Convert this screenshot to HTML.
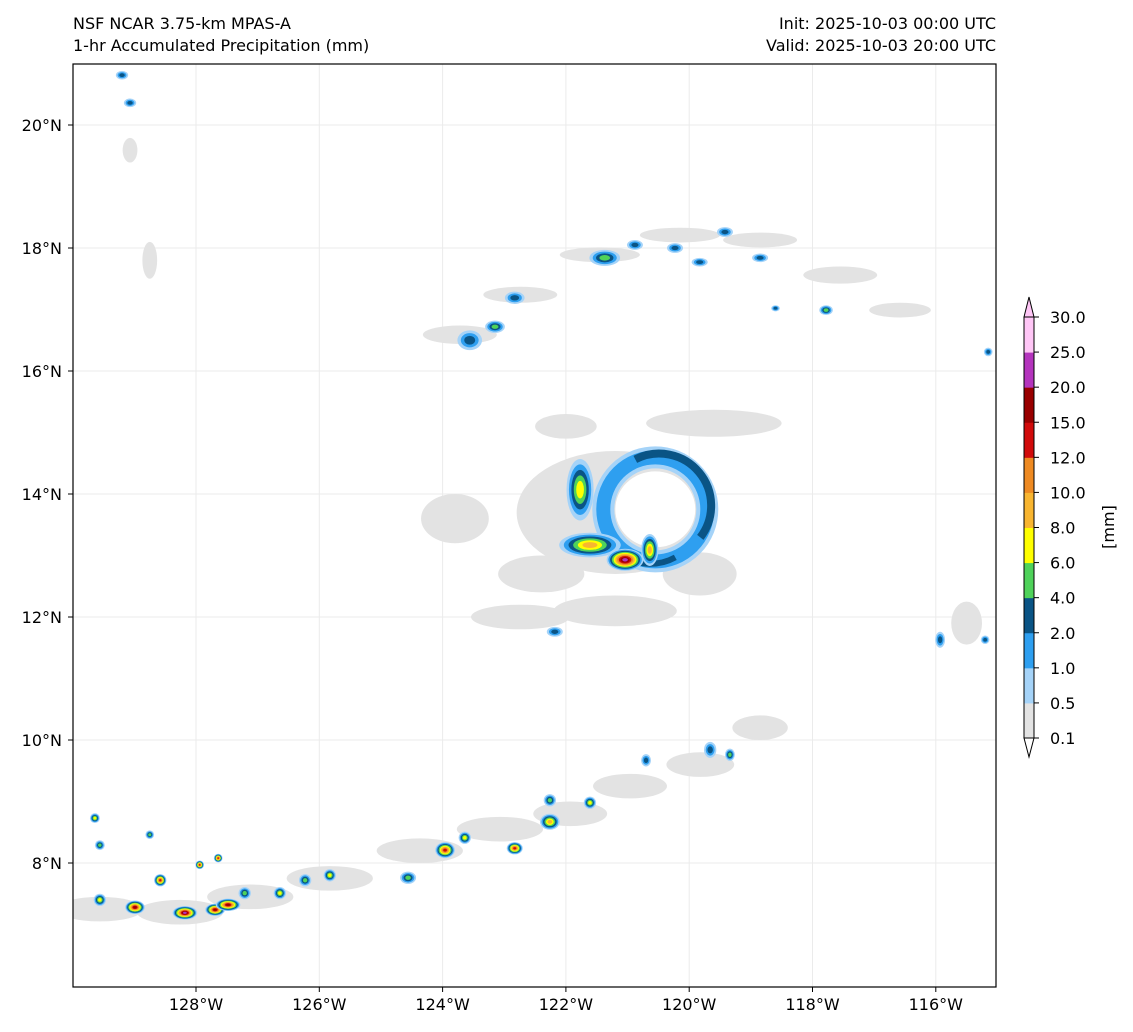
<!DOCTYPE html>
<html><head><meta charset="utf-8"><style>
body{margin:0;background:#fff;font-family:"DejaVu Sans",sans-serif}
svg{display:block}
text{font-family:"DejaVu Sans",sans-serif;fill:#000}
</style></head><body>
<svg id="chart" width="1133" height="1032" viewBox="0 0 1133 1032">
<text x="73" y="29" font-size="16">NSF NCAR 3.75-km MPAS-A</text>
<text x="73" y="51" font-size="16">1-hr Accumulated Precipitation (mm)</text>
<text x="996" y="29" font-size="16" text-anchor="end">Init: 2025-10-03 00:00 UTC</text>
<text x="996" y="51" font-size="16" text-anchor="end">Valid: 2025-10-03 20:00 UTC</text>
<defs><clipPath id="clip"><rect x="73" y="64" width="923" height="923"/></clipPath></defs>
<g id="grid"></g>
<g id="precip" clip-path="url(#clip)"></g>
<rect x="73" y="64" width="923" height="923" fill="none" stroke="#000" stroke-width="1.2"/>
<g id="axes"></g>
<g id="cbar"></g>
<text transform="translate(1114,527) rotate(-90)" font-size="16" text-anchor="middle">[mm]</text>
</svg>
<script>
const lonTicks=[-128,-126,-124,-122,-120,-118,-116];
const latTicks=[20,18,16,14,12,10,8];
const levels=["0.1","0.5","1.0","2.0","4.0","6.0","8.0","10.0","12.0","15.0","20.0","25.0","30.0"];
const colors=["#e3e3e3","#a5d3f8","#2e9ff0","#0a5485","#4fd25a","#ffff00","#f8b530","#ee8a22","#d10b0b","#990000","#b434bd","#ffc6f6"];
// gray areas: lon, lat, rx(deg), ry(deg)
const grayLon=[-121.2,-122.74,-123.8,-119.6,-119.83,-123.72,-122.74,-121.45,-120.15,-118.85,-117.55,-116.58,-129.56,-128.26,-127.12,-125.83,-124.37,-123.07,-121.93,-120.96,-119.82,-118.85,-115.5,-129.07,-128.75,-121.2,-122.4,-122.0];
const grayLat=[13.7,12.0,13.6,15.15,12.7,16.59,17.24,17.89,18.21,18.13,17.56,16.99,7.25,7.2,7.45,7.75,8.2,8.55,8.8,9.25,9.6,10.2,11.9,19.59,17.8,12.1,12.7,15.1];
const grayRx=[1.6,0.8,0.55,1.1,0.6,0.6,0.6,0.65,0.65,0.6,0.6,0.5,0.7,0.7,0.7,0.7,0.7,0.7,0.6,0.6,0.55,0.45,0.25,0.12,0.12,1.0,0.7,0.5];
const grayRy=[1.0,0.2,0.4,0.22,0.35,0.15,0.13,0.12,0.12,0.12,0.14,0.12,0.2,0.2,0.2,0.2,0.2,0.2,0.2,0.2,0.2,0.2,0.35,0.2,0.3,0.25,0.3,0.2];
// convective cells: lon, lat, rx, ry, max level index
const cellLon=[-121.77,-121.61,-121.04,-120.64,-122.18,-123.15,-123.56,-122.83,-121.37,-120.88,-120.23,-119.83,-119.42,-118.85,-117.78,-115.15,-118.6,-128.99,-128.18,-127.69,-127.48,-128.58,-129.56,-127.21,-126.64,-126.23,-125.83,-124.56,-123.96,-123.64,-122.83,-122.26,-121.61,-122.26,-120.7,-119.34,-119.66,-129.64,-129.56,-128.75,-127.94,-127.64,-129.2,-129.07,-115.93,-115.2];
const cellLat=[14.07,13.17,12.93,13.09,11.76,16.72,16.5,17.19,17.84,18.05,18.0,17.77,18.26,17.84,16.99,16.31,17.02,7.28,7.19,7.24,7.32,7.72,7.4,7.51,7.51,7.72,7.8,7.76,8.21,8.41,8.24,8.67,8.98,9.02,9.67,9.76,9.84,8.73,8.29,8.46,7.97,8.08,20.81,20.36,11.63,11.63];
const cellRx=[0.22,0.5,0.3,0.14,0.13,0.16,0.2,0.16,0.25,0.13,0.13,0.13,0.13,0.13,0.11,0.07,0.07,0.16,0.2,0.16,0.2,0.1,0.1,0.1,0.1,0.1,0.1,0.13,0.16,0.1,0.13,0.16,0.1,0.1,0.08,0.08,0.1,0.08,0.08,0.07,0.07,0.07,0.1,0.1,0.08,0.07];
const cellRy=[0.5,0.2,0.18,0.26,0.08,0.1,0.16,0.1,0.13,0.08,0.08,0.07,0.08,0.07,0.08,0.07,0.05,0.11,0.11,0.1,0.1,0.1,0.1,0.1,0.1,0.1,0.1,0.1,0.13,0.1,0.1,0.13,0.1,0.1,0.1,0.1,0.13,0.08,0.08,0.07,0.07,0.07,0.07,0.07,0.13,0.07];
const cellLv=[5,6,10,6,3,4,3,3,4,3,3,3,3,3,4,3,3,9,10,9,9,8,5,4,5,4,5,4,8,5,8,6,5,4,3,4,3,5,4,4,8,8,3,3,3,3];

const NS="http://www.w3.org/2000/svg";
const X=lon=>196+(lon+128)*61.65;
const Y=lat=>125+(20-lat)*61.5;
function mk(tag,attrs,parent){const e=document.createElementNS(NS,tag);for(const k in attrs)e.setAttribute(k,attrs[k]);parent.appendChild(e);return e;}
const grid=document.getElementById('grid'),axes=document.getElementById('axes'),pr=document.getElementById('precip'),cb=document.getElementById('cbar');
lonTicks.forEach(l=>{
 const g=mk('line',{x1:X(l),x2:X(l),y1:64,y2:987,stroke:'#ebebeb','stroke-width':1},grid);
 
 
 mk('line',{x1:X(l),x2:X(l),y1:987,y2:992,stroke:'#000'},axes);
 const t=mk('text',{x:X(l),y:1010,'font-size':16,'text-anchor':'middle'},axes);
 t.textContent=(-l)+'°W';
 
 
});
latTicks.forEach(l=>{
 const g=mk('line',{x1:73,x2:996,y1:Y(l),y2:Y(l),stroke:'#ebebeb','stroke-width':1},grid);
 
 
 mk('line',{x1:68,x2:73,y1:Y(l),y2:Y(l),stroke:'#000'},axes);
 const t=mk('text',{x:62,y:Y(l)+6,'font-size':16,'text-anchor':'end'},axes);
 t.textContent=l+'°N';
 
 
});
grayLon.forEach((lon,i)=>{
 const e=mk('ellipse',{cx:X(lon),cy:Y(grayLat[i]),rx:grayRx[i]*61.6,ry:grayRy[i]*61.5,fill:colors[0]},pr);
 
 
});
// eyewall ring
const ecx=X(-120.55),ecy=Y(13.75);
[[colors[1],22],[colors[2],14]].forEach(([c,w])=>{
 const r=mk('ellipse',{cx:ecx,cy:ecy,rx:52,ry:52,fill:'none',stroke:c,'stroke-width':w},pr);
 
 
});
const arc=mk('path',{d:`M ${ecx-20} ${ecy-50} A 52 52 0 0 1 ${ecx+45} ${ecy+28}`,fill:'none',stroke:colors[3],'stroke-width':8},pr);


const arc2=mk('path',{d:`M ${ecx+20} ${ecy+48} A 52 52 0 0 1 ${ecx-30} ${ecy+48}`,fill:'none',stroke:colors[3],'stroke-width':6},pr);


const eye=mk('ellipse',{cx:ecx,cy:ecy,rx:40,ry:38,fill:'#fff'},pr);


cellLon.forEach((lon,i)=>{
 const L=cellLv[i];
 for(let k=1;k<=L;k++){
  const s=1-(k-1)/(L+0.6);
  const e=mk('ellipse',{cx:X(lon),cy:Y(cellLat[i]),rx:cellRx[i]*61.6*s,ry:cellRy[i]*61.5*s,fill:colors[k]},pr);
  
  
 }
});
// colorbar
const cbTop=317,cbBot=738,cx0=1024,cw=10,step=(cbBot-cbTop)/(levels.length-1);
colors.forEach((c,i)=>{
 const r=mk('rect',{x:cx0,y:cbBot-(i+1)*step,width:cw,height:step+0.5,fill:c},cb);
 
 
});
const ta=mk('polygon',{points:`${cx0},${cbTop} ${cx0+cw/2},297 ${cx0+cw},${cbTop}`,fill:colors[11],stroke:'#000'},cb);


const ba=mk('polygon',{points:`${cx0},${cbBot} ${cx0+cw/2},757 ${cx0+cw},${cbBot}`,fill:'#fff',stroke:'#000'},cb);


mk('rect',{x:cx0,y:cbTop,width:cw,height:cbBot-cbTop,fill:'none',stroke:'#000'},cb);
levels.forEach((v,i)=>{
 const y=cbBot-i*step;
 mk('line',{x1:cx0+cw,x2:cx0+cw+5,y1:y,y2:y,stroke:'#000'},cb);
 const t=mk('text',{x:1050,y:y+6,'font-size':16},cb);
 t.textContent=v;
 
 
});
</script>
</body></html>
